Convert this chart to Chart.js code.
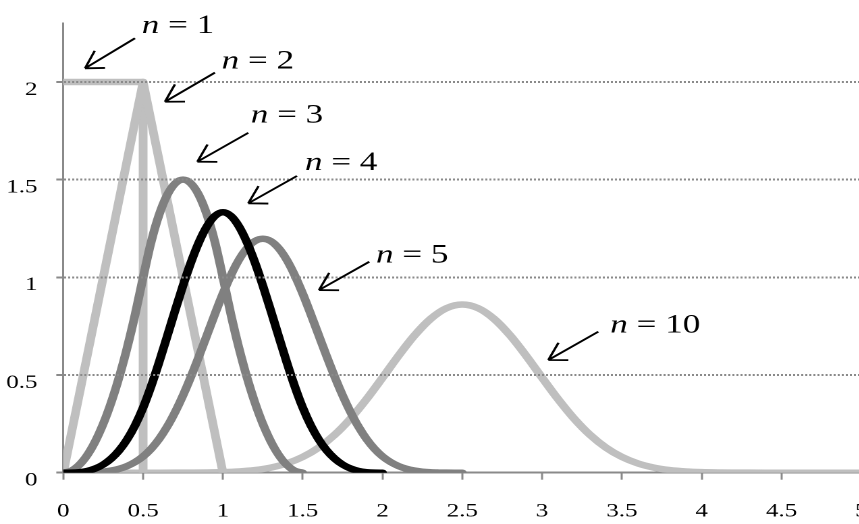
<!DOCTYPE html>
<html>
<head>
<meta charset="utf-8">
<script src="https://cdn.jsdelivr.net/npm/chart.js@4"></script>
<style>
  html, body { margin: 0; padding: 0; background: #fff; overflow: hidden; }
  #frame { width: 859px; height: 524px; overflow: hidden; }
  #stretch { width: 660px; height: 524px; transform-origin: 0 0; }
</style>
</head>
<body>
<div id="frame"><div id="stretch"><canvas id="chart"></canvas></div></div>
<script>
// the picture is a horizontally stretched chart, so draw narrow and stretch it
const S = 1.35;
document.getElementById('stretch').style.transform = 'scaleX(' + S + ')';

// n = 1
const x1 = [0, 0.5, 0.5];
const y1 = [2, 2, 0];
// n = 2
const x2 = [0, 0.5, 1];
const y2 = [0, 2, 0];
// n = 3
const x3 = [0, 0.05, 0.1, 0.15, 0.2, 0.25, 0.3, 0.35, 0.4, 0.45, 0.5, 0.55, 0.6, 0.65, 0.7, 0.75,
  0.8, 0.85, 0.9, 0.95, 1, 1.05, 1.1, 1.15, 1.2, 1.25, 1.3, 1.35, 1.4, 1.45, 1.5];
const y3 = [0, 0.01, 0.04, 0.09, 0.16, 0.25, 0.36, 0.49, 0.64, 0.81, 1, 1.18, 1.32, 1.42, 1.48, 1.5,
  1.48, 1.42, 1.32, 1.18, 1, 0.81, 0.64, 0.49, 0.36, 0.25, 0.16, 0.09, 0.04, 0.01, 0];
// n = 4
const x4 = [0, 0.05, 0.1, 0.15, 0.2, 0.25, 0.3, 0.35, 0.4, 0.45, 0.5, 0.55, 0.6, 0.65, 0.7, 0.75,
  0.8, 0.85, 0.9, 0.95, 1, 1.05, 1.1, 1.15, 1.2, 1.25, 1.3, 1.35, 1.4, 1.45, 1.5, 1.55, 1.6, 1.65,
  1.7, 1.75, 1.8, 1.85, 1.9, 1.95, 2];
const y4 = [0, 0.0003, 0.0027, 0.009, 0.0213, 0.0417, 0.072, 0.1143, 0.1707, 0.243, 0.3333, 0.4423,
  0.5653, 0.6963, 0.8293, 0.9583, 1.0773, 1.1803, 1.2613, 1.3143, 1.3333, 1.3143, 1.2613, 1.1803,
  1.0773, 0.9583, 0.8293, 0.6963, 0.5653, 0.4423, 0.3333, 0.243, 0.1707, 0.1143, 0.072, 0.0417,
  0.0213, 0.009, 0.0027, 0.0003, 0];
// n = 5
const x5 = [0, 0.05, 0.1, 0.15, 0.2, 0.25, 0.3, 0.35, 0.4, 0.45, 0.5, 0.55, 0.6, 0.65, 0.7, 0.75,
  0.8, 0.85, 0.9, 0.95, 1, 1.05, 1.1, 1.15, 1.2, 1.25, 1.3, 1.35, 1.4, 1.45, 1.5, 1.55, 1.6, 1.65,
  1.7, 1.75, 1.8, 1.85, 1.9, 1.95, 2, 2.05, 2.1, 2.15, 2.2, 2.25, 2.3, 2.35, 2.4, 2.45, 2.5];
const y5 = [0, 0.0000, 0.0001, 0.0007, 0.0021, 0.0052, 0.0108, 0.02, 0.0341, 0.0547, 0.0833, 0.122,
  0.1721, 0.2346, 0.3095, 0.3958, 0.4921, 0.596, 0.7041, 0.8126, 0.9167, 1.0107, 1.0895, 1.1487,
  1.1855, 1.1979, 1.1855, 1.1487, 1.0895, 1.0107, 0.9167, 0.8126, 0.7041, 0.596, 0.4921, 0.3958,
  0.3095, 0.2346, 0.1721, 0.122, 0.0833, 0.0547, 0.0341, 0.02, 0.0108, 0.0052, 0.0021, 0.0007,
  0.0001, 0.0000, 0];
// n = 10
const x10 = [0, 0.1, 0.2, 0.3, 0.4, 0.5, 0.6, 0.7, 0.8, 0.9, 1, 1.1, 1.2, 1.3, 1.4, 1.5, 1.6, 1.7,
  1.8, 1.9, 2, 2.1, 2.2, 2.3, 2.4, 2.5, 2.6, 2.7, 2.8, 2.9, 3, 3.1, 3.2, 3.3, 3.4, 3.5, 3.6, 3.7,
  3.8, 3.9, 4, 4.1, 4.2, 4.3, 4.4, 4.5, 4.6, 4.7, 4.8, 4.9, 5];
const y10 = [0, 0, 0, 0, 0, 0, 0, 0.0001, 0.0004, 0.0011, 0.0028, 0.0064, 0.0134, 0.0261, 0.0474,
  0.0805, 0.1284, 0.1938, 0.2772, 0.3765, 0.4863, 0.5984, 0.7021, 0.7865, 0.8417, 0.8609, 0.8417,
  0.7865, 0.7021, 0.5984, 0.4863, 0.3765, 0.2772, 0.1938, 0.1284, 0.0805, 0.0474, 0.0261, 0.0134,
  0.0064, 0.0028, 0.0011, 0.0004, 0.0001, 0, 0, 0, 0, 0, 0, 0];

// callout labels: text position, arrow tail, arrow tip (data units)
const notes = [
  { n: '1',  tx: 0.491, ty: 2.251, ax: 0.449, ay: 2.224, bx: 0.136, by: 2.070 },
  { n: '2',  tx: 0.992, ty: 2.070, ax: 0.950, ay: 2.048, bx: 0.637, by: 1.899 },
  { n: '3',  tx: 1.174, ty: 1.792, ax: 1.159, ay: 1.740, bx: 0.840, by: 1.592 },
  { n: '4',  tx: 1.514, ty: 1.550, ax: 1.464, ay: 1.519, bx: 1.159, by: 1.379 },
  { n: '5',  tx: 1.959, ty: 1.075, ax: 1.917, ay: 1.080, bx: 1.602, by: 0.935 },
  { n: '10', tx: 3.427, ty: 0.717, ax: 3.352, ay: 0.722, bx: 3.039, by: 0.577 }
];

const LIGHT = '#bfbfbf', MID = '#808080', DARK = '#000000', AXIS = '#8a8a8a';
const FONT = 'Liberation Serif';

const pts = (xs, ys) => xs.map((x, i) => ({ x: x, y: ys[i] }));

const calloutPlugin = {
  id: 'callouts',
  afterDraw(chart) {
    const { ctx, scales: { x, y } } = chart;
    ctx.save();
    ctx.fillStyle = '#000';
    ctx.strokeStyle = '#000';
    ctx.lineWidth = 1.8;
    ctx.textAlign = 'left';
    ctx.textBaseline = 'alphabetic';
    notes.forEach(a => {
      const tx = x.getPixelForValue(a.tx), ty = y.getPixelForValue(a.ty);
      ctx.font = 'italic 26px "' + FONT + '"';
      ctx.fillText('n', tx, ty);
      const w = ctx.measureText('n').width;
      ctx.font = '26px "' + FONT + '"';
      ctx.fillText(' = ' + a.n, tx + w, ty);

      const px0 = x.getPixelForValue(a.ax), py0 = y.getPixelForValue(a.ay);
      const px1 = x.getPixelForValue(a.bx), py1 = y.getPixelForValue(a.by);
      ctx.beginPath();
      ctx.moveTo(px0, py0);
      ctx.lineTo(px1, py1);
      // arrow head worked out in stretched (screen) space
      const ang = Math.atan2(py0 - py1, (px0 - px1) * S);
      [-Math.PI / 6, Math.PI / 6].forEach(d => {
        ctx.moveTo(px1, py1);
        ctx.lineTo(px1 + Math.cos(ang + d) * 20 / S, py1 + Math.sin(ang + d) * 20);
      });
      ctx.stroke();
    });
    ctx.restore();
  }
};

const curve = { cubicInterpolationMode: 'monotone' };
const straight = { tension: 0 };
const plain = v => String(v);

new Chart(document.getElementById('chart'), {
  type: 'line',
  data: {
    datasets: [
      { label: 'n = 4', data: pts(x4, y4), borderColor: DARK, order: 0, ...curve },
      { label: 'n = 3', data: pts(x3, y3), borderColor: MID, order: 1, ...curve },
      { label: 'n = 5', data: pts(x5, y5), borderColor: MID, order: 2, ...curve },
      { label: 'n = 2', data: pts(x2, y2), borderColor: LIGHT, order: 3, ...straight },
      { label: 'n = 1', data: pts(x1, y1), borderColor: LIGHT, order: 4, ...straight },
      { label: 'n = 10', data: pts(x10, y10), borderColor: LIGHT, order: 5, ...curve }
    ]
  },
  options: {
    responsive: true,
    maintainAspectRatio: false,
    animation: false,
    devicePixelRatio: 2,
    layout: { padding: { top: 23.4, right: 22, left: 0, bottom: 0 } },
    plugins: { legend: { display: false }, tooltip: { enabled: false } },
    elements: {
      point: { radius: 0 },
      line: { borderWidth: 6.5, borderCapStyle: 'round', borderJoinStyle: 'round', fill: false }
    },
    scales: {
      x: {
        type: 'linear',
        min: 0,
        max: 5,
        afterFit: s => { s.height = 51.3; s.paddingLeft = 0; s.paddingRight = 0; },
        grid: { drawOnChartArea: false, drawTicks: true, tickLength: 7, tickColor: AXIS, tickWidth: 1.5 },
        border: { color: AXIS, width: 2 },
        ticks: {
          stepSize: 0.5, padding: 21, color: '#000', maxRotation: 0, autoSkip: false,
          font: { family: FONT, size: 18.5 }, callback: plain
        }
      },
      y: {
        min: 0,
        max: 2.3,
        afterFit: s => { s.width = 46.9; s.paddingTop = 0; s.paddingBottom = 0; },
        grid: {
          color: c => (c.tick && c.tick.value === 0 ? 'rgba(0,0,0,0)' : AXIS),
          lineWidth: 2, tickLength: 5.2, tickColor: AXIS, tickWidth: 2, tickBorderDash: [], z: 1
        },
        border: { color: AXIS, width: 1.5, dash: [1.5, 1.5] },
        ticks: {
          stepSize: 0.5, includeBounds: false, padding: 14, labelOffset: 8, color: '#000',
          font: { family: FONT, size: 18.5 }, callback: plain
        }
      }
    }
  },
  plugins: [calloutPlugin]
});
</script>
</body>
</html>
